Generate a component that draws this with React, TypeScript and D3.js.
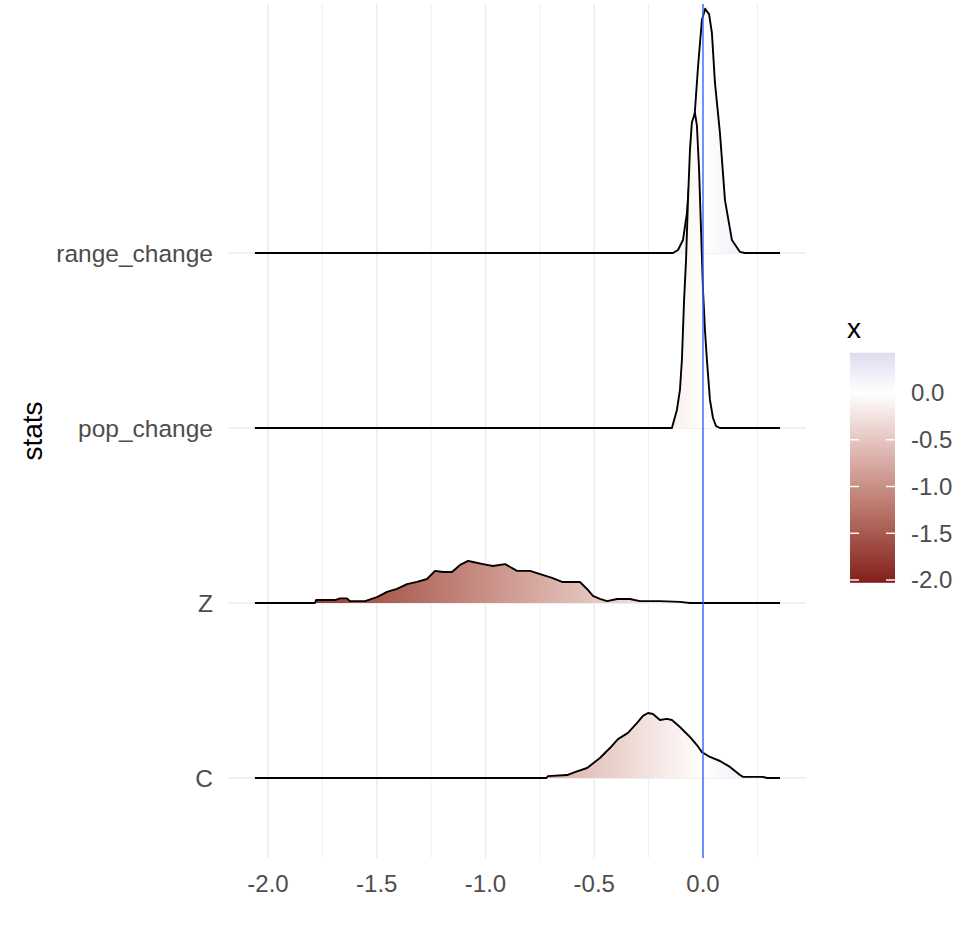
import React from 'react';
import * as d3 from 'd3';

// ---- data ----
const categories = ['C', 'Z', 'pop_change', 'range_change'];

const cDensity: [number, number][] = [
  [-2.06, 0], [-0.72, 0], [-0.713, 0.07], [-0.625, 0.11], [-0.589, 0.22], [-0.533, 0.37],
  [-0.474, 0.74], [-0.428, 1.11], [-0.391, 1.44], [-0.345, 1.67], [-0.303, 2.04], [-0.276, 2.3],
  [-0.253, 2.41], [-0.23, 2.37], [-0.198, 2.15], [-0.166, 2.19], [-0.143, 2.15], [-0.106, 1.89],
  [-0.06, 1.52], [-0.028, 1.22], [-0.005, 0.96], [0.032, 0.78], [0.078, 0.63], [0.124, 0.41],
  [0.17, 0.11], [0.184, 0.04], [0.276, 0.04], [0.294, 0], [0.354, 0],
];

const zDensity: [number, number][] = [
  [-2.06, 0], [-1.784, 0], [-1.779, 0.11], [-1.692, 0.11], [-1.669, 0.17], [-1.637, 0.17],
  [-1.623, 0.07], [-1.554, 0.07], [-1.499, 0.22], [-1.453, 0.41], [-1.407, 0.52], [-1.361, 0.7],
  [-1.315, 0.78], [-1.269, 0.89], [-1.232, 1.19], [-1.195, 1.15], [-1.154, 1.15], [-1.117, 1.41],
  [-1.08, 1.56], [-1.057, 1.52], [-1.011, 1.44], [-0.966, 1.37], [-0.91, 1.44], [-0.855, 1.19],
  [-0.795, 1.19], [-0.749, 1.07], [-0.694, 0.93], [-0.648, 0.78], [-0.598, 0.78], [-0.566, 0.78],
  [-0.533, 0.52], [-0.506, 0.26], [-0.474, 0.15], [-0.441, 0.07], [-0.395, 0.15], [-0.336, 0.15],
  [-0.29, 0.07], [-0.198, 0.07], [-0.106, 0.04], [-0.06, 0], [0.354, 0],
];

const popDensity: [number, number][] = [
  [-2.06, 0], [-0.143, 0], [-0.12, 0.67], [-0.106, 1.41], [-0.097, 2.52], [-0.087, 4.74],
  [-0.078, 6.22], [-0.069, 8.44], [-0.06, 10.3], [-0.051, 11.33], [-0.037, 11.67], [-0.028, 11.2],
  [-0.018, 9.56], [-0.009, 7.33], [0.0, 5.11], [0.009, 3.63], [0.018, 2.52], [0.032, 1.04],
  [0.046, 0.37], [0.06, 0.07], [0.078, 0], [0.354, 0],
];

const rangeDensity: [number, number][] = [
  [-2.06, 0], [-0.138, 0], [-0.115, 0.11], [-0.092, 0.48], [-0.074, 1.48], [-0.06, 2.96],
  [-0.041, 4.81], [-0.023, 6.89], [-0.005, 8.63], [0.01, 9.05], [0.018, 8.95], [0.028, 8.85],
  [0.041, 8.15], [0.055, 6.3], [0.078, 4.44], [0.101, 1.96], [0.133, 0.48], [0.17, 0.04],
  [0.193, 0], [0.354, 0],
];

const ridgeData = [cDensity, zDensity, popDensity, rangeDensity];

const xTicks = [-2.0, -1.5, -1.0, -0.5, 0.0];
const xMinorTicks = [-1.75, -1.25, -0.75, -0.25, 0.25];
const legendTicks = [0.0, -0.5, -1.0, -1.5, -2.0];
const fillLimits = [-2.03, 0.43];
const fillColors = ['#821c1c', '#ffffff', '#dcdcef'];
const vlineAt = 0;

const FONT = '"Liberation Sans", Arial, Helvetica, sans-serif';
const fmt = (v: number) => v.toFixed(1);

export default function App() {
  const x = d3.scaleLinear().domain([-2, 0]).range([268, 703]);
  const y = d3.scaleLinear().domain([0, 3]).range([778, 253]);
  const maxD = d3.max(ridgeData.flat(), (d) => d[1]) as number;
  const h = d3.scaleLinear().domain([0, maxD]).range([0, 315]);

  const color = d3
    .scaleLinear<string>()
    .domain([fillLimits[0], 0, fillLimits[1]])
    .range(fillColors)
    .interpolate(d3.interpolateLab);

  const panelLeft = 229;
  const panelRight = 806;
  const panelTop = 4;
  const panelBottom = 858;

  const stops = d3.range(0, 41).map((i) => {
    const v = fillLimits[0] + ((fillLimits[1] - fillLimits[0]) * i) / 40;
    return { off: i / 40, c: color(v) };
  });

  // legend
  const lg = d3.scaleLinear().domain([-2, 0]).range([580, 393]);
  const barX = 850;
  const barW = 45;
  const barTop = lg(fillLimits[1]);
  const barBot = lg(fillLimits[0]);

  const ridges = categories.map((cat, i) => {
    const base = y(i);
    const data = ridgeData[i];
    const area = d3
      .area<[number, number]>()
      .x((d) => x(d[0]))
      .y0(base)
      .y1((d) => base - h(d[1]));
    const line = d3
      .line<[number, number]>()
      .x((d) => x(d[0]))
      .y((d) => base - h(d[1]));
    return { cat, base, areaPath: area(data) as string, linePath: line(data) as string };
  });

  return (
    <svg
      width={975}
      height={926}
      style={{ position: 'absolute', left: 0, top: 0, background: '#fff' }}
      fontFamily={FONT}
    >
      <defs>
        <linearGradient
          id="ridgeFill"
          gradientUnits="userSpaceOnUse"
          x1={x(fillLimits[0])}
          x2={x(fillLimits[1])}
          y1={0}
          y2={0}
        >
          {stops.map((s, i) => (
            <stop key={i} offset={s.off} stopColor={s.c} />
          ))}
        </linearGradient>
        <linearGradient id="legendFill" x1="0" x2="0" y1="1" y2="0">
          {stops.map((s, i) => (
            <stop key={i} offset={s.off} stopColor={s.c} />
          ))}
        </linearGradient>
      </defs>

      {/* grid */}
      {xMinorTicks.map((t) => (
        <line key={'mn' + t} x1={x(t)} x2={x(t)} y1={panelTop} y2={panelBottom} stroke="#ebebeb" strokeWidth={0.8} />
      ))}
      {xTicks.map((t) => (
        <line key={'mj' + t} x1={x(t)} x2={x(t)} y1={panelTop} y2={panelBottom} stroke="#ebebeb" strokeWidth={1.4} />
      ))}
      {categories.map((c, i) => (
        <line key={'hg' + c} x1={panelLeft} x2={panelRight} y1={y(i)} y2={y(i)} stroke="#ebebeb" strokeWidth={1.4} />
      ))}

      {/* ridges: top first so lower ones overlap */}
      {[...ridges].reverse().map((r) => (
        <g key={r.cat}>
          <path d={r.areaPath} fill="url(#ridgeFill)" stroke="none" />
          <path d={r.linePath} fill="none" stroke="#000" strokeWidth={1.9} strokeLinejoin="round" />
        </g>
      ))}

      {/* vline */}
      <line x1={x(vlineAt)} x2={x(vlineAt)} y1={panelTop} y2={panelBottom} stroke="#3366FF" strokeWidth={1.4} />

      {/* y axis labels */}
      {categories.map((c, i) => (
        <text key={'yl' + c} x={213} y={y(i)} dy="0.35em" textAnchor="end" fontSize={24.5} fill="#4d4d4d">
          {c}
        </text>
      ))}
      <text
        transform={`translate(42, ${(panelTop + panelBottom) / 2}) rotate(-90)`}
        textAnchor="middle"
        fontSize={28}
        fill="#000"
      >
        stats
      </text>

      {/* x axis labels */}
      {xTicks.map((t) => (
        <text key={'xl' + t} x={x(t)} y={892} textAnchor="middle" fontSize={24} fill="#4d4d4d">
          {fmt(t)}
        </text>
      ))}

      {/* legend */}
      <text x={847} y={338} fontSize={28} fill="#000">
        x
      </text>
      <rect x={barX} y={barTop} width={barW} height={barBot - barTop} fill="url(#legendFill)" />
      {legendTicks.map((t) => (
        <g key={'lt' + t}>
          <line x1={barX} x2={barX + 9} y1={lg(t)} y2={lg(t)} stroke="#fff" strokeWidth={1.4} />
          <line x1={barX + barW - 9} x2={barX + barW} y1={lg(t)} y2={lg(t)} stroke="#fff" strokeWidth={1.4} />
          <text x={911} y={lg(t)} dy="0.35em" fontSize={24} fill="#4d4d4d">
            {fmt(t)}
          </text>
        </g>
      ))}
    </svg>
  );
}
